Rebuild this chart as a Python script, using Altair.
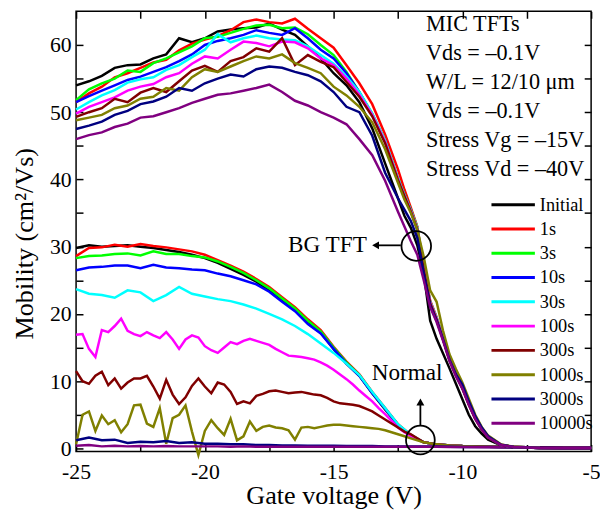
import altair as alt
import pandas as pd

SERIES = ["Initial", "1s", "3s", "10s", "30s", "100s", "300s", "1000s", "3000s", "10000s"]
COLORS = ["#000000", "#ff0000", "#00ff00", "#0000ff", "#00ffff", "#ff00ff",
          "#800000", "#808000", "#000080", "#800080"]

# ---- BG TFT (upper) curves ----
XU = [-25, -24.5, -24, -23.5, -23, -22.5, -22, -21.5, -21, -20.5, -20, -19.5, -19, -18.5,
      -18, -17.5, -17, -16.5, -16, -15.5, -15, -14.5, -14, -13.5, -13, -12.5, -12.25, -12,
      -11.75, -11.5, -11.25, -11, -10.75, -10.5, -10.25, -10, -9.75, -9.5, -9.25, -9, -8.5,
      -8, -7, -6, -5]
BG_INITIAL = [54.0, 54.6, 55.4, 56.6, 57.0, 57.1, 58.0, 58.6, 61.0, 60.4, 61.0, 62.0, 62.3, 62.5,
              62.6, 63.2, 62.3, 61.5, 59.8, 58.0, 55.8, 54.0, 51.5, 47.6, 42.4, 37.2, 34.6, 32.8,
              30.2, 26.0, 19.0, 16.3, 14.1, 11.9, 9.6, 7.3, 5.0, 3.3, 2.2, 1.3, 0.45,
              0.15, 0.05, 0.03, 0.03]
BG_1S = [51.5, 52.8, 53.8, 55.2, 55.8, 56.6, 57.4, 57.8, 59.2, 60.2, 60.8, 61.3, 62.2, 63.4,
         63.8, 63.4, 63.2, 63.9, 62.4, 61.0, 59.6, 57.0, 54.3, 51.2, 46.7, 41.5, 38.5, 35.8,
         33.0, 27.0, 22.0, 19.5, 16.5, 13.4, 11.2, 9.2, 6.8, 4.7, 3.0, 1.8, 0.55,
         0.22, 0.06, 0.03, 0.03]
BG_3S = [51.8, 53.4, 54.3, 55.0, 56.2, 56.0, 57.3, 58.0, 58.9, 59.8, 61.0, 61.2, 61.8, 62.4,
         62.9, 63.0, 62.5, 62.6, 61.6, 60.0, 58.5, 56.0, 53.0, 49.8, 45.8, 40.2, 37.8, 35.5,
         32.9, 26.8, 21.8, 19.4, 16.4, 13.3, 11.1, 9.1, 6.7, 4.6, 2.9, 1.7, 0.5,
         0.2, 0.06, 0.03, 0.03]
BG_10S = [51.5, 52.4, 53.2, 54.0, 54.8, 55.3, 56.0, 56.7, 57.6, 58.6, 60.0, 60.6, 61.0, 61.5,
          62.2, 61.8, 61.5, 62.5, 61.0, 59.3, 58.0, 55.8, 53.0, 49.6, 45.6, 40.0, 37.6, 35.3,
          32.6, 26.5, 21.6, 19.3, 16.3, 13.2, 11.0, 9.0, 6.6, 4.5, 2.9, 1.7, 0.5,
          0.2, 0.06, 0.03, 0.03]
BG_30S = [50.4, 51.5, 52.5, 53.3, 54.4, 54.9, 55.2, 56.3, 57.0, 58.2, 59.3, 61.6, 60.4, 61.0,
          61.4, 61.0, 60.8, 60.7, 59.8, 58.5, 57.2, 55.3, 53.0, 49.8, 45.8, 40.1, 37.7, 35.4,
          32.8, 26.8, 21.8, 19.4, 16.4, 13.3, 11.1, 9.1, 6.7, 4.6, 2.9, 1.7, 0.5,
          0.2, 0.06, 0.03, 0.03]
BG_100S = [49.8, 50.8, 51.5, 52.2, 53.2, 53.8, 54.2, 55.2, 55.8, 57.2, 58.3, 58.0, 59.3, 60.5,
           60.3, 59.8, 60.5, 60.4, 59.5, 58.0, 57.0, 55.0, 52.6, 49.6, 45.6, 40.0, 37.6, 35.3,
           32.7, 26.7, 21.7, 19.3, 16.3, 13.2, 11.0, 9.0, 6.6, 4.5, 2.9, 1.7, 0.5,
           0.2, 0.06, 0.03, 0.03]
BG_300S = [49.3, 50.0, 50.6, 52.0, 51.5, 52.9, 53.6, 53.0, 54.6, 56.2, 56.9, 56.0, 57.6, 58.2,
           59.5, 59.0, 61.0, 57.0, 58.5, 57.5, 56.7, 54.5, 52.3, 49.4, 45.4, 39.9, 37.5, 35.2,
           32.6, 26.6, 21.6, 19.2, 16.2, 13.1, 10.9, 8.9, 6.5, 4.4, 2.8, 1.6, 0.5,
           0.2, 0.06, 0.03, 0.03]
BG_1000S = [48.8, 49.2, 49.6, 50.6, 51.0, 52.0, 52.3, 53.6, 53.2, 55.2, 56.4, 56.0, 56.8, 57.6,
            58.3, 58.0, 58.6, 57.3, 56.6, 55.8, 53.8, 52.5, 50.8, 48.5, 44.5, 39.5, 37.0, 35.0,
            32.5, 28.5, 23.5, 21.8, 17.5, 14.0, 11.8, 9.8, 7.4, 5.0, 3.2, 1.9, 0.6,
            0.25, 0.06, 0.03, 0.03]
BG_3000S = [47.5, 48.0, 48.6, 49.6, 50.2, 51.2, 51.6, 52.3, 53.6, 53.2, 54.3, 55.0, 55.6, 55.3,
            56.4, 56.8, 56.6, 56.0, 55.5, 54.6, 53.0, 50.8, 50.0, 46.5, 41.0, 37.2, 35.5, 33.8,
            31.3, 26.0, 21.2, 19.0, 16.2, 13.2, 11.0, 9.5, 7.0, 4.8, 3.1, 1.8, 0.55,
            0.22, 0.06, 0.03, 0.03]
BG_10000S = [46.0, 46.6, 47.0, 47.8, 48.3, 49.2, 49.4, 50.0, 50.6, 51.4, 52.0, 52.6, 52.8, 53.2,
             53.6, 54.1, 53.0, 51.7, 51.0, 50.0, 49.2, 48.2, 46.0, 43.6, 39.8, 35.2, 33.0, 30.8,
             28.8, 25.0, 21.0, 18.8, 16.0, 13.0, 10.7, 8.9, 6.5, 4.4, 2.8, 1.6, 0.5,
             0.2, 0.06, 0.03, 0.03]
UPPER = [BG_INITIAL, BG_1S, BG_3S, BG_10S, BG_30S, BG_100S, BG_300S, BG_1000S, BG_3000S, BG_10000S]

# ---- Normal (lower) curves ----
XL_SMOOTH = [-25, -24.5, -24, -23.5, -23, -22.5, -22, -21.5, -21, -20.5, -20, -19.5, -19, -18.5,
             -18, -17.5, -17, -16.5, -16, -15.5, -15, -14.5, -14, -13.5, -13, -12.5, -12,
             -11.5, -11, -10.5, -10, -9, -8, -7, -6, -5]
XL_NOISY = [-25, -24.75, -24.5, -24.25, -24, -23.75, -23.5, -23.25, -23, -22.75, -22.5, -22.25,
            -22, -21.75, -21.5, -21.25, -21, -20.75, -20.5, -20.25, -20, -19.75, -19.5, -19.25,
            -19, -18.75, -18.5, -18.25, -18, -17.75, -17.5, -17.25, -17, -16.75, -16.5, -16.25,
            -16, -15.75, -15.5, -15.25, -15, -14.75, -14.5, -14.25, -14, -13.75, -13.5, -13.25,
            -13, -12.75, -12.5, -12.25, -12,
            -11.5, -11, -10.5, -10, -9, -8, -7, -6, -5]
TAIL = [0.9, 0.6, 0.45, 0.35, 0.25, 0.2, 0.15, 0.12, 0.1]
N_INITIAL = [29.8, 30.2, 30.0, 30.1, 30.2, 30.0, 29.8, 29.5, 29.2, 28.8, 28.3, 27.6, 26.7, 25.8,
             24.8, 23.5, 22.0, 20.6, 18.6, 17.2, 14.8, 12.6, 10.8, 8.2, 5.8, 3.5, 1.9] + TAIL
N_1S = [28.6, 29.8, 29.9, 30.3, 30.0, 30.4, 30.1, 29.9, 29.6, 29.3, 28.8, 28.0, 27.2, 26.3,
        25.2, 24.0, 22.5, 21.0, 19.2, 17.6, 15.1, 12.9, 11.0, 8.4, 6.0, 3.6, 2.0] + TAIL
N_3S = [28.3, 28.6, 28.7, 28.9, 29.0, 28.7, 29.3, 28.9, 28.9, 28.6, 28.4, 27.8, 27.0, 26.1,
        25.0, 23.8, 22.3, 20.8, 19.0, 17.4, 15.0, 12.8, 10.9, 8.3, 5.9, 3.5, 1.9] + TAIL
N_10S = [26.5, 26.9, 27.0, 27.2, 27.2, 26.8, 27.3, 26.9, 26.8, 26.6, 26.5, 26.0, 25.6, 25.0,
         24.4, 23.3, 21.8, 20.4, 18.5, 17.1, 14.8, 12.6, 10.8, 8.2, 5.9, 3.5, 1.9] + TAIL
N_30S = [23.7, 23.0, 22.8, 22.4, 23.5, 23.2, 21.9, 22.8, 24.0, 23.0, 22.6, 22.2, 21.9, 21.4,
         20.8, 20.0, 19.2, 18.2, 17.0, 15.6, 14.2, 12.6, 10.9, 8.4, 6.0, 3.6, 2.0] + TAIL
N_100S = [16.9, 17.0, 14.8, 13.6, 17.6, 17.3, 18.2, 19.3, 17.5, 17.0, 16.7, 17.3, 16.8, 16.4,
          17.3, 16.2, 14.8, 16.2, 16.8, 16.5, 15.2, 14.6, 14.2, 15.0, 15.8, 15.5, 16.0, 16.3,
          16.0, 15.7, 15.4, 14.8, 14.3, 13.8, 13.7, 13.6, 13.4, 13.2, 12.8, 12.3, 11.7, 11.0,
          10.3, 9.5, 8.6, 7.8, 7.0, 6.0, 5.1, 4.1, 3.1, 2.4, 1.8] + TAIL
N_300S = [11.5, 10.0, 9.6, 10.8, 11.4, 9.4, 10.4, 8.9, 9.8, 10.4, 10.4, 10.8, 9.2, 7.4,
          10.2, 8.0, 6.6, 7.6, 9.3, 10.4, 9.2, 8.2, 9.8, 9.5, 8.4, 6.6, 7.0, 6.7,
          7.8, 8.1, 8.5, 8.6, 8.4, 8.2, 8.3, 8.4, 8.2, 8.0, 7.9, 7.5, 7.0, 6.7,
          6.6, 6.5, 6.3, 5.9, 5.5, 4.9, 4.3, 3.7, 3.1, 2.5, 2.1] + TAIL
N_1000S = [0.6, 5.0, 5.5, 2.6, 4.9, 3.6, 4.2, 2.4, 3.6, 6.4, 6.5, 3.7, 3.2, 6.0,
           0.7, 4.5, 5.0, 6.4, 2.5, -1.0, 2.6, 4.2, 3.0, 2.0, 4.4, 1.2, 1.8, 4.0,
           2.6, 3.2, 3.4, 3.1, 3.0, 2.7, 1.3, 3.1, 3.2, 3.0, 3.2, 3.4, 3.5, 3.5,
           3.4, 3.3, 3.2, 3.1, 3.0, 2.9, 2.7, 2.4, 2.1, 1.8, 1.5] + TAIL
N_3000S = [1.2, 1.6, 1.2, 1.3, 0.8, 1.0, 0.9, 1.1, 0.8, 0.9, 0.7, 0.7, 0.6, 0.6,
           0.5, 0.5, 0.45, 0.45, 0.4, 0.4, 0.4, 0.35, 0.35, 0.35, 0.3, 0.3, 0.3,
           0.3, 0.28, 0.25, 0.22, 0.2, 0.15, 0.12, 0.1, 0.1]
N_10000S = [0.4, 0.5, 0.3, 0.4, 0.3, 0.35, 0.3, 0.35, 0.3, 0.3, 0.3, 0.3, 0.25, 0.3,
            0.25, 0.25, 0.25, 0.25, 0.25, 0.25, 0.25, 0.25, 0.25, 0.25, 0.25, 0.25, 0.25,
            0.25, 0.25, 0.22, 0.2, 0.18, 0.15, 0.12, 0.1, 0.1]
LOWER = [(XL_SMOOTH, N_INITIAL), (XL_SMOOTH, N_1S), (XL_SMOOTH, N_3S), (XL_SMOOTH, N_10S),
         (XL_SMOOTH, N_30S), (XL_NOISY, N_100S), (XL_NOISY, N_300S), (XL_NOISY, N_1000S),
         (XL_SMOOTH, N_3000S), (XL_SMOOTH, N_10000S)]

# ---- annotations ----
INFO_LINES = ["MIC TFTs", "Vds = \u20130.1V", "W/L = 12/10 \u03bcm", "Vds = \u20130.1V",
              "Stress Vg = \u201315V", "Stress Vd = \u201340V"]
INFO_Y = [62.1, 57.8, 53.5, 49.2, 44.8, 40.5]
INFO_X = -11.41

XTICK_LABELS = [-25, -20, -15, -10, -5]
XTICKS = [-25, -22.5, -20, -17.5, -15, -12.5, -10, -7.5, -5]
YTICK_LABELS = [0, 10, 20, 30, 40, 50, 60]
YTICKS = [0, 5, 10, 15, 20, 25, 30, 35, 40, 45, 50, 55, 60]

FONT = "Liberation Serif"
W, H = 522, 446

rows_u = []
for name, vals in zip(SERIES, UPPER):
    for x, y in zip(XU, vals):
        rows_u.append({"x": x, "y": y, "series": name})
df_u = pd.DataFrame(rows_u)

rows_l = []
for name, (xs, vals) in zip(SERIES, LOWER):
    for x, y in zip(xs, vals):
        rows_l.append({"x": x, "y": y, "series": name})
df_l = pd.DataFrame(rows_l)

df_txt = pd.DataFrame({"text": INFO_LINES + ["Normal"],
                       "x": [INFO_X] * len(INFO_LINES) + [-13.52],
                       "y": INFO_Y + [10.17],
                       "fs": [22.5] * len(INFO_LINES) + [23.5]})
df_txt_r = pd.DataFrame({"text": ["BG TFT"], "x": [-13.71], "y": [29.25]})
df_circ = pd.DataFrame({"x": [-11.79, -11.63], "y": [30.1, 1.25], "s": [900, 850]})
df_arrow = pd.DataFrame({"x": [-12.39, -11.63], "x2": [-13.39, -11.63],
                         "y": [30.2, 3.4], "y2": [30.2, 6.8]})
df_head = pd.DataFrame({"x": [-13.37, -11.63], "y": [30.2, 6.9],
                        "shape": ["triangle-left", "triangle-up"]})

xs = alt.Scale(domain=[-25, -5], nice=False, zero=False)
ys = alt.Scale(domain=[-0.45, 65], nice=False, zero=False)

legend = alt.Legend(orient="none", legendX=431.5, legendY=184.5, title=None,
                    symbolType="M-2.2,0L2.2,0", symbolSize=400, symbolStrokeWidth=3,
                    labelFont=FONT, labelFontSize=18.5, labelColor="black", labelOffset=15.5,
                    rowPadding=3.6, padding=0)
color = alt.Color("series:N", scale=alt.Scale(domain=SERIES, range=COLORS), legend=legend)

tick_common = dict(labels=False, domain=False, grid=False, ticks=True, tickSize=7,
                   tickWidth=1.5, tickColor="black", title=None)

ax_x_main = alt.Axis(orient="bottom", values=XTICK_LABELS, labelExpr="'' + datum.value",
                     ticks=False, domain=False, grid=False, labelFont=FONT, labelFontSize=22,
                     labelColor="black", labelPadding=10, labelFlush=False,
                     title="Gate voltage (V)", titleFont=FONT, titleFontSize=26.5,
                     titleFontWeight="normal", titleColor="black", titlePadding=1)
ax_y_main = alt.Axis(orient="left", values=YTICK_LABELS, ticks=False, domain=False, grid=False,
                     labelFont=FONT, labelFontSize=22, labelColor="black", labelPadding=5,
                     title="Mobility (cm\u00b2/Vs)", titleFont=FONT, titleFontSize=26.5,
                     titleFontWeight="normal", titleColor="black", titlePadding=11, titleY=235)

lower = alt.Chart(df_l).mark_line(strokeWidth=2.5).encode(
    x=alt.X("x:Q", scale=xs, axis=ax_x_main),
    y=alt.Y("y:Q", scale=ys, axis=ax_y_main),
    color=color,
)
upper = alt.Chart(df_u).mark_line(strokeWidth=2.5).encode(
    x=alt.X("x:Q", scale=xs, axis=alt.Axis(orient="top", offset=-H, values=XTICKS, **tick_common)),
    y=alt.Y("y:Q", scale=ys, axis=alt.Axis(orient="right", offset=-W, values=YTICKS, **tick_common)),
    color=color,
)
txt = alt.Chart(df_txt).mark_text(align="left", baseline="alphabetic", font=FONT,
                                  color="black").encode(
    x=alt.X("x:Q", scale=xs, axis=alt.Axis(orient="bottom", offset=-H, values=XTICKS, **tick_common)),
    y=alt.Y("y:Q", scale=ys, axis=alt.Axis(orient="left", offset=-W, values=YTICKS, **tick_common)),
    text="text:N",
    size=alt.Size("fs:Q", scale=None, legend=None),
)
txt_r = alt.Chart(df_txt_r).mark_text(align="right", baseline="alphabetic", font=FONT,
                                      fontSize=23.5, color="black").encode(
    x=alt.X("x:Q", scale=xs, axis=None),
    y=alt.Y("y:Q", scale=ys, axis=None),
    text="text:N",
)
circ = alt.Chart(df_circ).mark_point(shape="circle", filled=False, color="black",
                                     strokeWidth=1.8, opacity=1).encode(
    x=alt.X("x:Q", scale=xs, axis=None),
    y=alt.Y("y:Q", scale=ys, axis=None),
    size=alt.Size("s:Q", scale=None, legend=None),
)
arrows = alt.Chart(df_arrow).mark_rule(color="black", strokeWidth=1.8).encode(
    x=alt.X("x:Q", scale=xs, axis=None),
    x2="x2:Q",
    y=alt.Y("y:Q", scale=ys, axis=None),
    y2="y2:Q",
)
heads = alt.Chart(df_head).mark_point(filled=True, color="black", size=64, opacity=1).encode(
    x=alt.X("x:Q", scale=xs, axis=None),
    y=alt.Y("y:Q", scale=ys, axis=None),
    shape=alt.Shape("shape:N", scale=None, legend=None),
)

chart = alt.layer(lower, upper, txt, txt_r, circ, arrows, heads).resolve_axis(
    x="independent", y="independent"
).properties(
    width=W, height=H,
    autosize=alt.AutoSizeParams(type="none"),
    padding={"left": 69, "top": 0, "right": 9, "bottom": 58},
).configure_view(stroke="black", strokeWidth=1.5)

chart.save("out.html", embed_options={"renderer": "svg", "actions": False})
